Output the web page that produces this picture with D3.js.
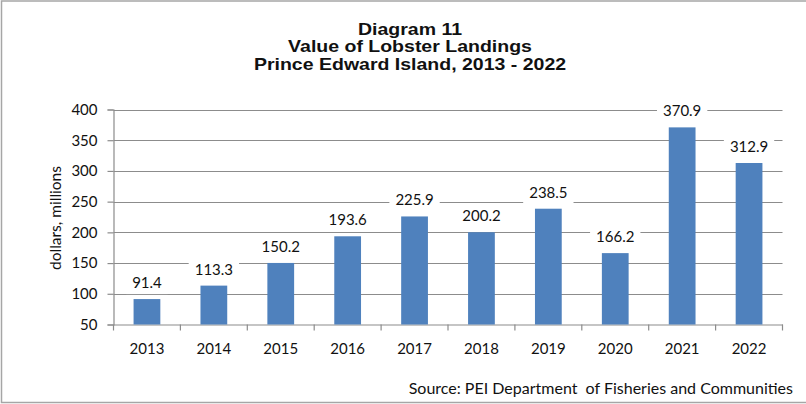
<!DOCTYPE html>
<html>
<head>
<meta charset="utf-8">
<script src="https://cdn.jsdelivr.net/npm/d3@7"></script>
<style>
  body { margin: 0; background: #fff; }
  text { font-family: Lato, "Open Sans", sans-serif; fill: #111; }
  .title { font-family: "Liberation Sans", Arial, sans-serif; font-weight: bold; font-size: 16px; }
</style>
</head>
<body>
<svg width="806" height="404"></svg>
<script>
const years = ['2013', '2014', '2015', '2016', '2017', '2018', '2019', '2020', '2021', '2022'];
const values = [91.4, 113.3, 150.2, 193.6, 225.9, 200.2, 238.5, 166.2, 370.9, 312.9];
const yTicks = [50, 100, 150, 200, 250, 300, 350, 400];
const titleLines = ['Diagram 11', 'Value of Lobster Landings', 'Prince Edward Island, 2013 - 2022'];

const data = years.map((y, i) => ({ year: y, value: values[i] }));

const svg = d3.select('svg');
const plotLeft = 113.5, plotRight = 782.5, plotTop = 109.5, plotBottom = 324.5;
const gridColor = '#8c8c8c';

// outer frame
svg.append('rect')
    .attr('x', 1.5).attr('y', 1).attr('width', 812).attr('height', 401.5)
    .attr('fill', 'none').attr('stroke', '#a6a6a6').attr('stroke-width', 1.5);

const x = d3.scaleBand()
    .domain(years)
    .range([plotLeft, plotRight])
    .paddingInner(0.6)
    .paddingOuter(0.3);

const y = d3.scaleLinear()
    .domain([50, 400])
    .range([plotBottom, plotTop]);

// title (the original is stretched a bit wide)
svg.append('g')
    .attr('transform', 'translate(410,0) scale(1.22,1)')
    .selectAll('text')
    .data(titleLines)
    .enter().append('text')
    .attr('class', 'title')
    .attr('x', 0)
    .attr('y', (d, i) => 35 + i * 17.5)
    .attr('text-anchor', 'middle')
    .text(d => d);

// gridlines
svg.append('g').selectAll('line')
    .data(yTicks.slice(1))
    .enter().append('line')
    .attr('x1', plotLeft).attr('x2', plotRight)
    .attr('y1', d => Math.round(y(d)) + 0.5)
    .attr('y2', d => Math.round(y(d)) + 0.5)
    .attr('stroke', gridColor).attr('stroke-width', 1.2);

// y axis
const yAxis = svg.append('g')
    .attr('transform', `translate(${plotLeft},0)`)
    .call(d3.axisLeft(y).tickValues(yTicks).tickSize(6).tickPadding(10));
yAxis.select('.domain').attr('stroke', gridColor).attr('stroke-width', 1.2);
yAxis.selectAll('.tick line').attr('stroke', gridColor).attr('stroke-width', 1.2);
yAxis.selectAll('.tick text').attr('font-size', '15px').attr('font-family', 'Lato, sans-serif').attr('fill', '#111');

// x axis
const xAxis = svg.append('g')
    .attr('transform', `translate(0,${plotBottom})`)
    .call(d3.axisBottom(x).tickSize(0).tickPadding(19));
xAxis.select('.domain').attr('stroke', gridColor).attr('stroke-width', 1.2);
xAxis.selectAll('.tick text').attr('font-size', '15px').attr('font-family', 'Lato, sans-serif').attr('fill', '#111');

// x tick marks at band boundaries
const bounds = years.map(d => x(d) - x.step() * x.paddingInner() / 2).concat([plotRight]);
svg.append('g').selectAll('line')
    .data(bounds)
    .enter().append('line')
    .attr('x1', d => d).attr('x2', d => d)
    .attr('y1', plotBottom).attr('y2', plotBottom + 6)
    .attr('stroke', gridColor).attr('stroke-width', 1.2);

// bars
svg.append('g').selectAll('rect')
    .data(data)
    .enter().append('rect')
    .attr('x', d => x(d.year))
    .attr('y', d => y(d.value))
    .attr('width', x.bandwidth())
    .attr('height', d => plotBottom - y(d.value))
    .attr('fill', '#4f81bd');

// value labels with white boxes
const lab = svg.append('g').selectAll('g')
    .data(data)
    .enter().append('g')
    .attr('transform', d => `translate(${x(d.year) + x.bandwidth() / 2},${y(d.value) - 11})`);
lab.append('rect').attr('fill', '#fff');
lab.append('text')
    .attr('text-anchor', 'middle')
    .attr('font-size', '15px')
    .text(d => d.value.toFixed(1));
lab.each(function () {
    const t = d3.select(this).select('text').node();
    const w = t.getComputedTextLength() + 12;
    d3.select(this).select('rect')
        .attr('x', -w / 2).attr('y', -16).attr('width', w).attr('height', 22);
});

// y axis title
svg.append('text')
    .attr('transform', 'translate(61,218) rotate(-90)')
    .attr('text-anchor', 'middle')
    .attr('font-size', '15.5px')
    .text('dollars, millions');

// source
svg.append('text')
    .attr('x', 793).attr('y', 394)
    .attr('text-anchor', 'end')
    .attr('font-size', '16px')
    .style('white-space', 'pre')
    .text('Source: PEI Department  of Fisheries and Communities');
</script>
</body>
</html>
